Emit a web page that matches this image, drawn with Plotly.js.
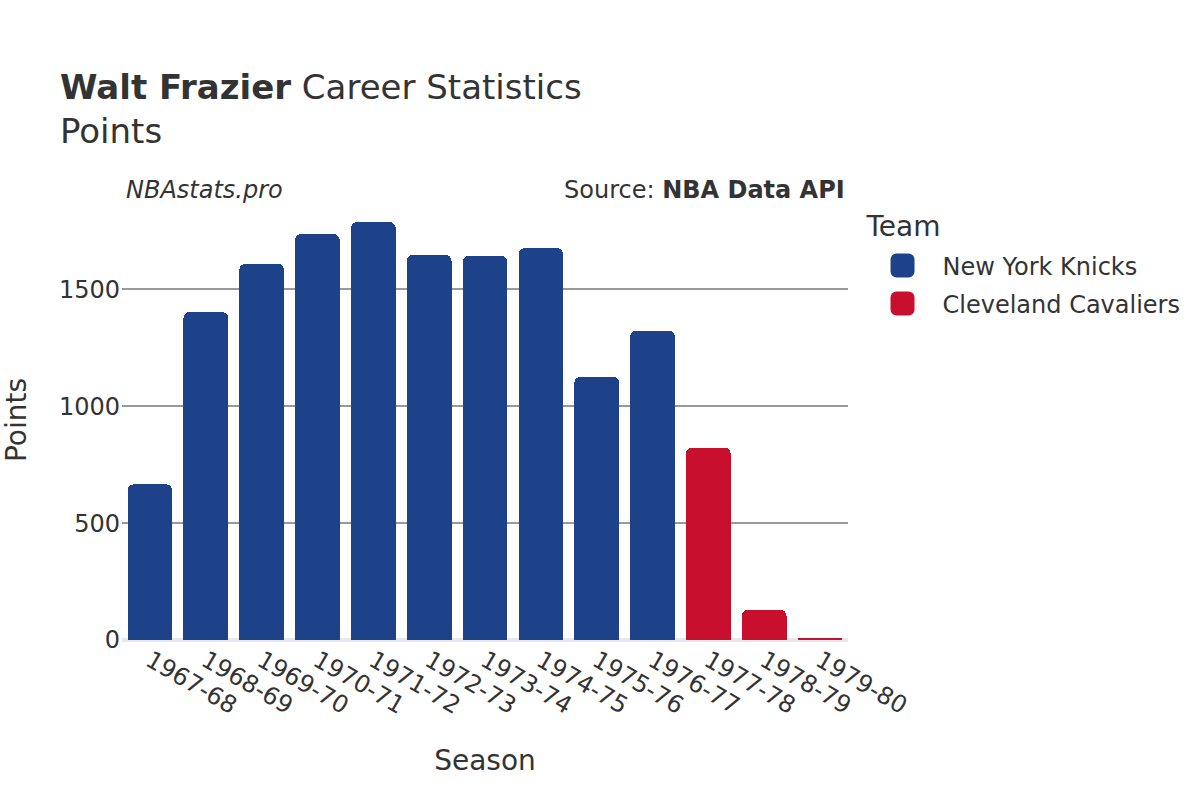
<!DOCTYPE html>
<html>
<head>
<meta charset="utf-8">
<script src="https://cdn.plot.ly/plotly-3.0.1.min.js"></script>
<style>
html,body{margin:0;padding:0;background:#fff;overflow:hidden;}
#wrap{width:1200px;height:800px;position:relative;}
#chart{width:600px;height:400px;transform:scale(2);transform-origin:0 0;}
</style>
</head>
<body>
<div id="wrap"><div id="chart"></div></div>
<script>
const knicksSeasons = ["1967-68","1968-69","1969-70","1970-71","1971-72","1972-73","1973-74","1974-75","1975-76","1976-77"];
const knicksPoints = [666,1403,1609,1736,1788,1648,1643,1676,1126,1323];
const cavsSeasons = ["1977-78","1978-79","1979-80"];
const cavsPoints = [823,129,4];
const allSeasons = knicksSeasons.concat(cavsSeasons);
const yTicks = [0,500,1000,1500];

const font = "DejaVu Sans, Verdana, sans-serif";
const traces = [
  {type:"bar", name:"New York Knicks", x:knicksSeasons, y:knicksPoints,
   marker:{color:"#1d428a", cornerradius:3}},
  {type:"bar", name:"Cleveland Cavaliers", x:cavsSeasons, y:cavsPoints,
   marker:{color:"#c8102e", cornerradius:3}}
];
const layout = {
  width:600, height:400,
  margin:{l:61, r:176, t:100, b:80, autoexpand:false},
  paper_bgcolor:"#fff", plot_bgcolor:"#fff",
  font:{family:font, color:"#333", size:12},
  barmode:"stack", bargap:0.2,
  title:{text:"<b>Walt Frazier</b> Career Statistics<br>Points", xref:"container", x:0.05, xanchor:"left",
         yref:"container", y:0.876, yanchor:"top",
         font:{family:font, size:17, color:"#333"}},
  xaxis:{type:"category", categoryorder:"array", categoryarray:allSeasons, tickangle:30,
         title:{text:"Season", font:{size:14}, standoff:16}, tickfont:{size:12}, showgrid:false},
  yaxis:{title:{text:"Points", font:{size:14}, standoff:18}, tickfont:{size:12}, gridcolor:"#999", zeroline:true,
         zerolinecolor:"#e6e8ef", zerolinewidth:1.5, tickvals:yTicks},
  legend:{title:{text:"Team", font:{size:14}}, font:{size:12}, traceorder:"normal", x:1.02, xanchor:"left", y:1, yanchor:"top"},
  annotations:[
    {text:"<i>NBAstats.pro</i>", xref:"paper", yref:"paper", x:0.0, y:0.982, xanchor:"left", yanchor:"bottom", showarrow:false, font:{size:12}},
    {text:"Source: <b>NBA Data API</b>", xref:"paper", yref:"paper", x:1, y:0.982, xanchor:"right", yanchor:"bottom", showarrow:false, font:{size:12}}
  ]
};
Plotly.newPlot("chart", traces, layout, {displayModeBar:false});
</script>
</body>
</html>
